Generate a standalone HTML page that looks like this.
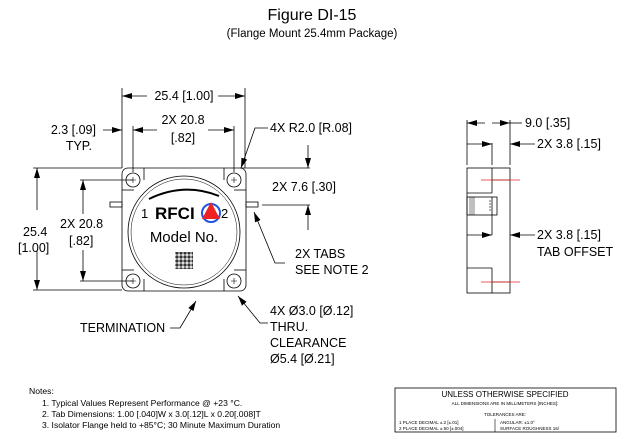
<!DOCTYPE html>
<html><head><style>
html,body{margin:0;padding:0;background:#fff;}
svg{display:block;font-family:"Liberation Sans",sans-serif;}
</style></head><body>
<svg width="624" height="439" viewBox="0 0 624 439" xmlns="http://www.w3.org/2000/svg">
<defs>
<marker id="a" viewBox="0 0 10 6" refX="10" refY="3" markerWidth="10" markerHeight="6" orient="auto-start-reverse" markerUnits="userSpaceOnUse"><path d="M0,0L10,3L0,6z" fill="#000"/></marker>
<pattern id="q" width="4" height="4" patternUnits="userSpaceOnUse"><rect width="4" height="4" fill="#888"/><rect width="2" height="2" fill="#333"/><rect x="2" y="2" width="2" height="2" fill="#ddd"/></pattern>
</defs>
<text x="312" y="20" font-size="16" text-anchor="middle">Figure DI-15</text>
<text x="312" y="37" font-size="11.5" text-anchor="middle">(Flange Mount 25.4mm Package)</text>
<g stroke="#000" stroke-width="0.8" fill="none">
<line x1="122" y1="88" x2="122" y2="168"/><line x1="245" y1="88" x2="245" y2="168"/>
<line x1="122" y1="96" x2="147" y2="96" marker-start="url(#a)"/><line x1="218" y1="96" x2="245" y2="96" marker-end="url(#a)"/>
<line x1="133" y1="126" x2="133" y2="172"/><line x1="234" y1="126" x2="234" y2="172"/>
<line x1="133" y1="130" x2="157" y2="130" marker-start="url(#a)"/><line x1="208" y1="130" x2="234" y2="130" marker-end="url(#a)"/>
<line x1="103" y1="130" x2="122" y2="130" marker-end="url(#a)"/>
<line x1="33" y1="168" x2="122" y2="168"/><line x1="33" y1="290" x2="122" y2="290"/>
<line x1="37" y1="168" x2="37" y2="210" marker-start="url(#a)"/><line x1="37" y1="250" x2="37" y2="290" marker-end="url(#a)"/>
<line x1="80" y1="180" x2="133" y2="180"/><line x1="80" y1="281" x2="133" y2="281"/>
<line x1="83" y1="180" x2="83" y2="214" marker-start="url(#a)"/><line x1="83" y1="250" x2="83" y2="281" marker-end="url(#a)"/>
<rect x="122" y="168" width="124" height="123" rx="6"/>
<line x1="144" y1="168" x2="144" y2="180"/><line x1="224" y1="168" x2="224" y2="180"/>
<line x1="144" y1="291" x2="144" y2="279"/><line x1="224" y1="291" x2="224" y2="279"/>
<line x1="122" y1="190" x2="134" y2="190"/><line x1="122" y1="270" x2="134" y2="270"/>
<line x1="246" y1="190" x2="234" y2="190"/><line x1="246" y1="270" x2="234" y2="270"/>
<circle cx="133" cy="180" r="7"/><circle cx="234" cy="180" r="7"/><circle cx="133" cy="281" r="7"/><circle cx="234" cy="281" r="7"/>
<path d="M130,180h6M133,177v6M231,180h6M234,177v6M130,281h6M133,278v6M231,281h6M234,278v6" stroke-width="0.6"/>
<circle cx="184" cy="232" r="56"/><circle cx="184" cy="232" r="53" stroke-width="0.5"/>
<rect x="110" y="202" width="12" height="5"/><rect x="246" y="202" width="12" height="5"/>
<path d="M149,199 Q184,182 219,196" stroke-width="2"/>
<line x1="240" y1="168" x2="310" y2="168"/><line x1="262" y1="205" x2="310" y2="205"/>
<line x1="308" y1="145" x2="308" y2="168" marker-end="url(#a)"/><line x1="308" y1="230" x2="308" y2="205" marker-end="url(#a)"/>
<path d="M268,128H255L241,168" marker-end="url(#a)"/>
<path d="M285,263H275L254,212" marker-end="url(#a)"/>
<path d="M268,323H260L238,296" marker-end="url(#a)"/>
<path d="M170,328H180L196,301" marker-end="url(#a)"/>
<rect x="467" y="168" width="43" height="125"/>
<line x1="492" y1="168" x2="492" y2="193"/><line x1="467" y1="193" x2="492" y2="193"/>
<line x1="492" y1="180" x2="510" y2="180"/>
<rect x="467" y="197" width="30" height="18"/>
<line x1="492" y1="197" x2="492" y2="215"/>
<path d="M470,197v18M472,197v18M474,197v18" stroke-width="0.5"/>
<line x1="467" y1="268" x2="492" y2="268"/><line x1="492" y1="268" x2="492" y2="293"/><line x1="492" y1="282" x2="510" y2="282"/>
<line x1="467" y1="120" x2="467" y2="165"/><line x1="510" y1="120" x2="510" y2="165"/><line x1="492" y1="143" x2="492" y2="165"/>
<line x1="467" y1="123" x2="485" y2="123" marker-start="url(#a)"/><line x1="492" y1="123" x2="510" y2="123" marker-end="url(#a)"/>
<line x1="510" y1="123" x2="522" y2="123"/>
<line x1="467" y1="144" x2="492" y2="144" marker-end="url(#a)"/><line x1="535" y1="144" x2="510" y2="144" marker-end="url(#a)"/>
<line x1="492" y1="215" x2="492" y2="235"/>
<line x1="467" y1="235" x2="492" y2="235" marker-end="url(#a)"/><line x1="535" y1="235" x2="510" y2="235" marker-end="url(#a)"/>
</g>
<g stroke="#e22" stroke-width="0.7"><line x1="481" y1="180" x2="520" y2="180"/><line x1="481" y1="282" x2="520" y2="282"/></g>
<path d="M490,200v12" stroke="#000" stroke-width="0.6" stroke-dasharray="2 1"/>
<circle cx="211" cy="213" r="9" fill="none" stroke="#2255dd" stroke-width="2"/>
<path d="M211,202L220,219L202,219z" fill="#e22"/>
<rect x="175" y="252" width="18" height="17" fill="url(#q)"/>
<g font-size="14" fill="#000">
<text x="141" y="218" font-size="13">1</text>
<text x="155" y="219" font-size="17" font-weight="bold">RFCI</text>
<text x="221" y="218" font-size="13">2</text>
<text x="184" y="242" text-anchor="middle" font-size="15">Model No.</text>
</g>
<g font-size="12.5" fill="#000">
<text x="184" y="100" text-anchor="middle">25.4 [1.00]</text>
<text x="183" y="124" text-anchor="middle">2X 20.8</text>
<text x="183" y="142" text-anchor="middle">[.82]</text>
<text x="96" y="134" text-anchor="end">2.3 [.09]</text>
<text x="92" y="150" text-anchor="end">TYP.</text>
<text x="23" y="236">25.4</text><text x="18" y="252">[1.00]</text>
<text x="60" y="228">2X 20.8</text><text x="69" y="245">[.82]</text>
<text x="270" y="132">4X R2.0 [R.08]</text>
<text x="272" y="191">2X 7.6 [.30]</text>
<text x="295" y="258">2X TABS</text><text x="295" y="274">SEE NOTE 2</text>
<text x="270" y="315">4X Ø3.0 [Ø.12]</text><text x="270" y="331">THRU.</text>
<text x="270" y="347">CLEARANCE</text><text x="270" y="363">Ø5.4 [Ø.21]</text>
<text x="80" y="332">TERMINATION</text>
<text x="525" y="127">9.0 [.35]</text>
<text x="537" y="148">2X 3.8 [.15]</text>
<text x="537" y="239">2X 3.8 [.15]</text>
<text x="537" y="256">TAB OFFSET</text>
</g>
<g font-size="8.6" fill="#000">
<text x="29" y="394">Notes:</text>
<text x="42" y="406">1. Typical Values Represent Performance @ +23 °C.</text>
<text x="42" y="417">2. Tab Dimensions: 1.00 [.040]W x 3.0[.12]L x 0.20[.008]T</text>
<text x="42" y="428">3. Isolator Flange held to +85°C; 30 Minute Maximum Duration</text>
</g>
<rect x="395" y="388" width="221" height="44" fill="none" stroke="#000" stroke-width="0.8"/>
<line x1="495" y1="419" x2="495" y2="432" stroke="#000" stroke-width="0.6"/>
<g fill="#000" font-size="4.5">
<text x="505" y="397" font-size="8" text-anchor="middle">UNLESS OTHERWISE SPECIFIED</text>
<text x="505" y="405" text-anchor="middle">ALL DIMENSIONS ARE IN MILLIMETERS [INCHES]:</text>
<text x="505" y="416" text-anchor="middle">TOLERANCES ARE:</text>
<text x="399" y="424">1 PLACE DECIMAL    ±.2  [±.01]</text>
<text x="399" y="430">2 PLACE DECIMAL    ±.50 [±.004]</text>
<text x="500" y="424">ANGULAR:  ±1.0°</text>
<text x="500" y="430">SURFACE ROUGHNESS     16/</text>
</g>
</svg>
</body></html>
